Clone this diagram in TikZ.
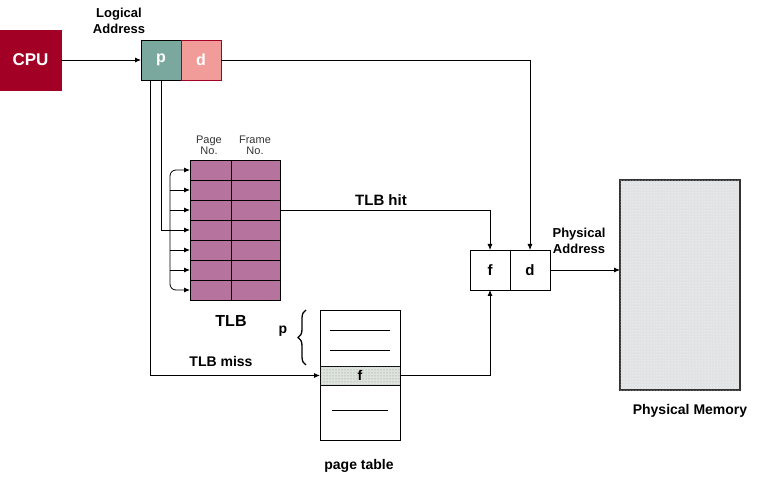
\documentclass[tikz,border=0pt]{standalone}
\usepackage{fontspec}
\setmainfont{Liberation Sans}
\usetikzlibrary{arrows.meta}
\usetikzlibrary{positioning,patterns,decorations.pathreplacing}
\definecolor{cpured}{HTML}{A20025}
\definecolor{pgreen}{HTML}{7AA89F}
\definecolor{dpink}{HTML}{F19C99}
\definecolor{tlbpurple}{HTML}{B5739D}
\definecolor{memgray}{HTML}{E1E2E4}
\definecolor{rowgray}{HTML}{DDE3DD}
\tikzset{%
  >={Latex[width=5pt,length=6pt]},
  % Specifications for style of nodes:
            base1/.style = {rectangle, draw=black, inner sep=0pt, outer sep=0pt,
                           minimum width=40pt, minimum height=40pt,
                           text centered, font=\bfseries\fontsize{16}{18}\selectfont},
       cpubox/.style = {base1, draw=cpured, fill=cpured, text=white,
                           minimum width=61pt, minimum height=60pt,
                           font=\bfseries\fontsize{17}{19}\selectfont},
       pbox/.style = {base1, fill=pgreen, text=white},
       dbox/.style = {base1, draw=cpured, fill=dpink, text=white},
       addrbox/.style = {base1, fill=white, font=\bfseries\fontsize{15}{17}\selectfont},
       tlbcell/.style = {base1, fill=tlbpurple, minimum height=20pt},
       membox/.style = {base1, draw=black!80, line width=2pt, fill=memgray,
                           minimum width=120pt, minimum height=210pt},
       tablebox/.style = {base1, minimum width=80pt, minimum height=130pt},
       labeltext/.style = {align=center, inner sep=0pt, font=\bfseries\fontsize{14}{16}\selectfont},
       smalltext/.style = {align=center, inner sep=0pt, text=black!80, font=\fontsize{11}{11}\selectfont}
}

\begin{document}
\begin{tikzpicture}[x=1pt, y=-1pt, line width=0.8pt]
  \useasboundingbox (0,0) rectangle (761,481);
  % CPU and logical address
  \node (cpu)      [cpubox] at (30.5,60) {CPU};
  \node (p)        [pbox] at (161,60) {p};
  \node (d)        [dbox, right=0pt of p] {d};
  \node (logaddr)  [labeltext, font=\bfseries\fontsize{13}{16}\selectfont] at (119,21) {Logical\\Address};
  \draw[->]        (cpu) -- (p);

  % TLB
  \foreach \i in {0,...,6}{
    \node (pg\i)   [tlbcell, minimum width=41pt] at (210.5,170+20*\i) {};
    \node (fr\i)   [tlbcell, minimum width=49pt, right=0pt of pg\i] {};
  }
  \node (pageno)   [smalltext] at (209,145) {Page\\No.};
  \node (frameno)  [smalltext] at (255,145) {Frame\\No.};
  \node (tlb)      [labeltext, font=\bfseries\fontsize{16}{18}\selectfont] at (231,321) {TLB};
  \coordinate (fan) at (170,0);
  \draw[->, rounded corners=6pt] (pg3.west -| fan) |- (pg0.west);
  \draw[->, rounded corners=6pt] (pg3.west -| fan) |- (pg6.west);
  \foreach \i in {1,2,4,5}{
    \draw[->] (pg\i.west -| fan) -- (pg\i.west);
  }
  \draw[->]        (p.south) |- (pg3.west);

  % page table
  \node (ptab)     [tablebox] at (360,375) {};
  \node (pf)       [base1, minimum width=80pt, minimum height=19pt, fill=rowgray] at (360,375.5) {};
  \fill[pattern=dots, pattern color=black!45] (pf.south west) rectangle (pf.north east);
  \node (pfl)      [font=\bfseries\fontsize{14}{16}\selectfont] at (pf) {f};
  \draw            (330,330) -- (390,330);
  \draw            (330,350) -- (390,350);
  \draw            (332,410) -- (388,410);
  \node (ptlabel)  [labeltext] at (359,466) {page table};
  \draw[decorate, decoration={brace, amplitude=8pt, aspect=0.5}, line width=1.3pt] (306,365) -- (306,310);
  \node (pidx)     [labeltext] at (283,331) {p};
  \draw[->]        ([xshift=-11pt]p.south) |- (pf.west);
  \node (tlbmiss)  [labeltext] at (221,361) {TLB miss};

  % physical address
  \node (f)        [addrbox] at (490,270) {f};
  \node (dd)       [addrbox, right=0pt of f] {d};
  \draw[->]        (d.east) -| (dd.north);
  \draw[->]        (fr2.east) -| (f.north);
  \node (tlbhit)   [labeltext, font=\bfseries\fontsize{15}{17}\selectfont] at (381,200) {TLB hit};
  \draw[->]        (pf.east) -| (f.south);

  % physical memory
  \node (mem)      [membox] at (680,285) {};
  \fill[pattern=dots, pattern color=white] (mem.south west) rectangle (mem.north east);
  \node (physaddr) [labeltext, font=\bfseries\fontsize{13}{16}\selectfont] at (579,241) {Physical\\Address};
  \node (memlabel) [labeltext] at (690,411) {Physical Memory};
  \draw[->]        (dd.east) -- (dd.east -| mem.west);
\end{tikzpicture}
\end{document}
